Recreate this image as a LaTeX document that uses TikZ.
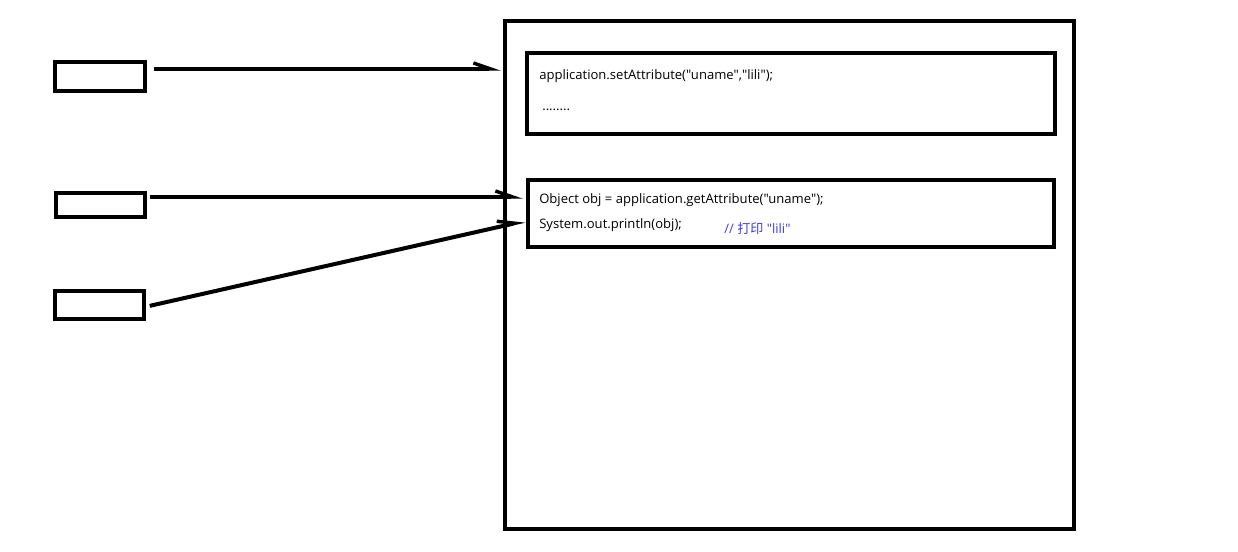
\documentclass[tikz,border=0pt]{standalone}
\usepackage{fontspec}
\newfontfamily\codefont{Open Sans}
\newfontfamily\cjkfont{Noto Sans CJK SC}
\usetikzlibrary{arrows.meta}
\begin{document}
\begin{tikzpicture}[x=0.75pt,y=-0.75pt,
  frame/.style={draw=black,line width=3pt},
  smallbox/.style={draw=black,line width=2.8pt},
  conn/.style={line width=3pt,-{Straight Barb[harpoon,length=13pt,width=9pt,line width=2.6pt]}},
  code/.style={anchor=west,inner sep=0pt,font=\codefont\fontsize{9.8}{12}\selectfont},
  comment/.style={code,text={rgb,255:red,60;green,60;blue,230}}]
\useasboundingbox (0,0) rectangle (1238,552);
\node[frame,minimum width=569*0.75pt,minimum height=508*0.75pt,inner sep=0pt,anchor=north west] (big) at (503,19) {};
\node[frame,minimum width=528*0.75pt,minimum height=81*0.75pt,inner sep=0pt,anchor=north west] (in1) at (525,51) {};
\node[frame,minimum width=526*0.75pt,minimum height=67*0.75pt,inner sep=0pt,anchor=north west] (in2) at (526,178) {};
\node[smallbox,minimum width=90*0.75pt,minimum height=29*0.75pt,inner sep=0pt,anchor=north west] (s1) at (53,60) {};
\node[smallbox,minimum width=89*0.75pt,minimum height=24*0.75pt,inner sep=0pt,anchor=north west] (s2) at (54,191) {};
\node[smallbox,minimum width=89*0.75pt,minimum height=28*0.75pt,inner sep=0pt,anchor=north west] (s3) at (53,289) {};
\node[code] (t1) at (539,76) {application.setAttribute("uname","lili");};
\node[code] (t2) at (542,110) {........};
\node[code] (t3) at (539,200) {Object obj = application.getAttribute("uname");};
\node[code] (t4) at (539,225) {System.out.println(obj);};
\node[comment] (t5) at (724,229) {// {\cjkfont 打印} "lili"};
\coordinate (e1) at (501,69);
\coordinate (e2) at (523,197);
\coordinate (e3) at (525,221);
\draw[conn] ([xshift=7*0.75pt]s1.east |- e1) -- (e1);
\draw[conn] ([xshift=3*0.75pt]s2.east |- e2) -- (e2);
\draw[conn] ([xshift=4*0.75pt,yshift=-1*0.75pt]s3.east) -- (e3);
\end{tikzpicture}
\end{document}
